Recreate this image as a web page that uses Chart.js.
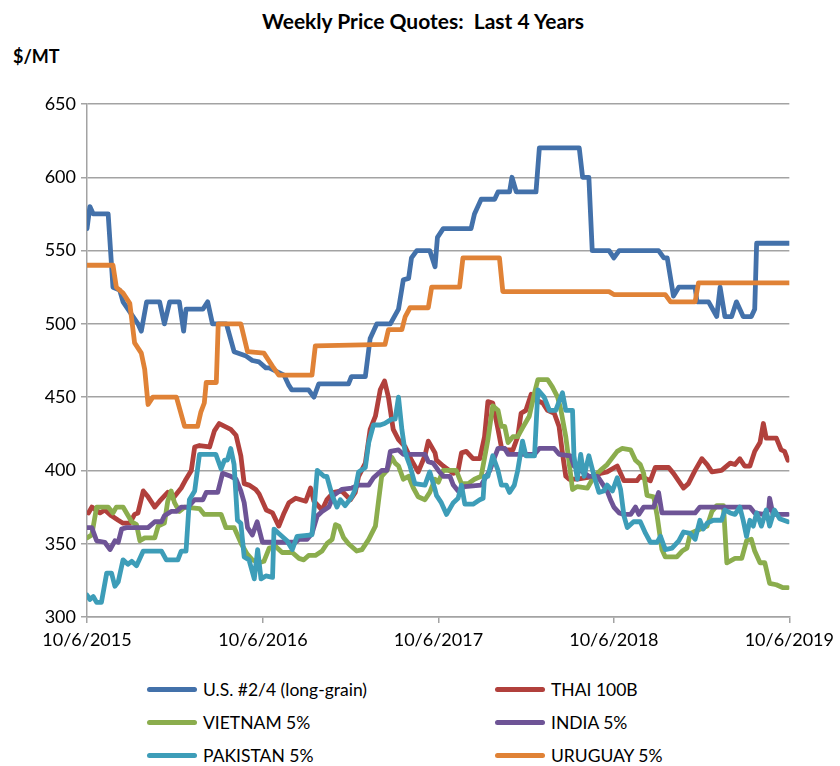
<!DOCTYPE html>
<html>
<head>
<meta charset="utf-8">
<script src="https://cdn.jsdelivr.net/npm/chart.js@4.4.1/dist/chart.umd.min.js"></script>
<style>
  body { margin:0; background:#fff; font-family: Lato, "Open Sans", sans-serif; color:#000; }
  #wrap { position:relative; width:840px; height:766px; }
  #title { position:absolute; left:0; width:846px; top:8px; text-align:center; font-weight:bold; font-size:21px; }
  #unit { position:absolute; left:13px; top:45px; font-weight:bold; font-size:18px; }
  #box { position:absolute; left:0; top:0; width:840px; height:670px; }
  #legend { position:absolute; left:0; top:679px; width:840px; }
  .item { position:absolute; display:flex; align-items:center; font-size:17.5px; white-space:nowrap; }
  .swatch { width:50px; height:5px; border-radius:3px; margin-right:6px; }
</style>
</head>
<body>
<div id="wrap">
  <div id="title">Weekly Price Quotes:&nbsp; Last 4 Years</div>
  <div id="unit">$/MT</div>
  <div id="box"><canvas id="chart"></canvas></div>
  <div id="legend"></div>
</div>
<script>
// x = days since 10/6/2015, y = $/MT
const tickDays = [0, 366, 731, 1096, 1461];
const tickLabels = ['10/6/2015', '10/6/2016', '10/6/2017', '10/6/2018', '10/6/2019'];
const yTicks = [300, 350, 400, 450, 500, 550, 600, 650];

const seriesNames = ['U.S. #2/4 (long-grain)', 'THAI 100B', 'VIETNAM 5%', 'INDIA 5%', 'PAKISTAN 5%', 'URUGUAY 5%'];
const seriesColors = ['#4371AA', '#B1403C', '#8BAD4D', '#6E5496', '#3D9DB8', '#E08236'];

const usPrices = [[0,565],[6,580],[13,575],[44,575],[54,525],[68,523],[75,515],[106,500],[113,495],[124,515],[151,515],[161,500],[172,515],[192,515],[201,495],[206,510],[241,510],[251,515],[261,500],[290,500],[306,481],[331,478],[344,475],[358,474],[372,470],[379,470],[410,465],[420,458],[426,455],[461,455],[472,450],[482,459],[544,459],[550,464],[579,464],[589,490],[603,500],[631,500],[648,510],[658,530],[669,531],[675,545],[686,550],[713,550],[724,539],[729,559],[741,565],[799,565],[806,575],[820,585],[848,585],[855,590],[879,590],[884,600],[893,590],[934,590],[941,620],[1024,620],[1031,600],[1044,600],[1051,550],[1086,550],[1096,545],[1107,550],[1189,550],[1200,545],[1207,545],[1220,519],[1231,525],[1265,525],[1269,515],[1293,515],[1310,505],[1317,525],[1327,505],[1341,505],[1351,515],[1365,505],[1382,505],[1389,510],[1393,555],[1461,555]];

const thaiPrices = [[3,371],[10,375],[27,371],[37,373],[51,369],[65,366],[75,364],[89,364],[99,370],[106,371],[117,386],[127,382],[141,375],[151,379],[168,385],[179,381],[196,388],[206,394],[217,400],[224,416],[234,417],[255,416],[265,427],[275,432],[299,428],[310,424],[320,410],[327,391],[337,390],[351,387],[358,384],[373,373],[386,371],[399,362],[410,371],[420,378],[434,381],[455,379],[465,388],[472,379],[489,373],[499,380],[513,385],[530,386],[548,380],[558,385],[565,396],[579,405],[589,428],[600,437],[610,455],[619,461],[627,450],[637,428],[648,421],[662,416],[675,407],[689,399],[703,410],[710,420],[724,412],[727,407],[741,403],[762,398],[772,400],[779,412],[789,413],[803,408],[817,408],[827,423],[834,447],[844,446],[855,428],[862,416],[872,414],[886,414],[896,423],[903,439],[913,441],[924,452],[934,448],[948,446],[958,441],[972,439],[982,430],[989,412],[996,396],[1003,394],[1020,394],[1055,396],[1068,398],[1082,399],[1103,403],[1117,393],[1144,393],[1151,396],[1172,393],[1182,402],[1210,402],[1220,398],[1241,388],[1251,391],[1265,400],[1279,408],[1290,404],[1300,399],[1320,400],[1338,405],[1348,404],[1358,408],[1368,403],[1379,403],[1389,413],[1400,419],[1407,432],[1413,422],[1434,422],[1444,414],[1451,413],[1458,407]];

const vietnamPrices = [[0,354],[10,356],[20,375],[44,375],[54,371],[61,375],[75,375],[93,365],[103,363],[110,352],[120,354],[141,354],[148,362],[161,364],[168,379],[175,386],[182,378],[192,372],[203,375],[234,374],[244,370],[279,370],[289,361],[306,361],[321,350],[333,343],[344,339],[358,337],[368,338],[379,347],[393,348],[406,344],[427,344],[441,340],[451,339],[461,342],[475,342],[489,345],[499,350],[510,353],[517,363],[524,362],[534,354],[544,350],[561,345],[572,346],[586,353],[600,362],[606,378],[613,396],[624,400],[634,409],[641,405],[648,403],[658,394],[669,396],[679,388],[689,382],[703,380],[713,385],[724,394],[731,392],[741,400],[768,400],[779,391],[793,391],[806,394],[820,396],[834,421],[844,444],[855,441],[862,430],[869,430],[876,419],[886,423],[896,423],[906,429],[920,437],[931,453],[938,462],[958,462],[968,457],[979,450],[986,441],[996,423],[1003,405],[1010,387],[1020,389],[1041,388],[1055,396],[1068,400],[1082,404],[1103,413],[1113,415],[1131,414],[1141,407],[1151,404],[1158,398],[1165,383],[1179,382],[1186,369],[1196,346],[1203,341],[1227,341],[1238,345],[1248,347],[1255,357],[1269,359],[1290,362],[1300,372],[1310,376],[1324,376],[1331,337],[1348,340],[1362,340],[1372,352],[1382,353],[1389,345],[1400,337],[1410,337],[1420,323],[1434,322],[1448,320],[1458,320]];

const indiaPrices = [[0,361],[10,361],[20,352],[37,351],[48,346],[58,352],[65,351],[72,360],[82,361],[127,361],[141,365],[155,365],[161,369],[175,372],[186,372],[196,375],[210,375],[224,380],[241,380],[248,385],[272,385],[282,398],[299,396],[310,394],[320,386],[327,378],[334,361],[344,356],[354,365],[365,351],[434,351],[441,353],[458,353],[468,357],[479,369],[489,372],[503,375],[513,383],[530,387],[551,388],[565,390],[586,390],[596,395],[613,400],[624,400],[631,413],[648,414],[658,411],[703,411],[710,406],[720,405],[731,400],[741,396],[755,396],[762,390],[772,386],[786,389],[820,390],[827,394],[838,400],[848,409],[855,415],[869,415],[876,411],[931,411],[941,415],[972,415],[982,411],[1006,410],[1013,403],[1027,400],[1044,396],[1062,396],[1072,391],[1082,386],[1089,380],[1096,375],[1107,371],[1117,370],[1131,370],[1141,375],[1148,370],[1158,375],[1179,375],[1189,385],[1196,371],[1265,371],[1275,375],[1379,375],[1389,371],[1407,370],[1418,373],[1420,381],[1427,370],[1458,370]];

const pakistanPrices = [[0,315],[6,312],[13,314],[20,310],[30,310],[41,330],[51,330],[58,321],[65,324],[75,339],[85,336],[93,338],[103,335],[117,345],[155,345],[165,339],[189,339],[196,345],[206,345],[213,380],[224,386],[234,411],[268,411],[279,401],[286,407],[292,407],[299,415],[306,404],[313,366],[320,364],[327,341],[337,339],[348,326],[355,346],[362,326],[372,328],[386,327],[389,360],[399,357],[416,352],[427,346],[437,355],[468,356],[479,400],[493,396],[499,396],[510,383],[520,375],[527,380],[537,376],[551,382],[558,387],[565,399],[579,402],[586,419],[596,431],[610,431],[619,432],[634,435],[641,435],[648,450],[655,428],[662,412],[672,403],[682,391],[703,390],[713,399],[724,387],[727,383],[737,378],[748,370],[762,378],[772,381],[779,390],[786,377],[803,377],[817,380],[824,381],[827,396],[834,396],[844,410],[855,400],[862,390],[872,390],[879,385],[889,390],[896,400],[906,420],[913,410],[931,410],[938,455],[951,450],[962,441],[975,441],[989,453],[996,441],[1010,441],[1013,410],[1020,394],[1027,411],[1034,396],[1044,410],[1055,396],[1065,385],[1075,386],[1082,390],[1093,386],[1103,395],[1110,387],[1117,369],[1124,361],[1137,365],[1151,365],[1162,357],[1172,351],[1186,351],[1193,355],[1203,346],[1217,347],[1231,352],[1241,358],[1255,357],[1265,353],[1275,366],[1282,360],[1290,364],[1303,366],[1320,366],[1327,373],[1338,371],[1348,370],[1358,375],[1365,366],[1372,355],[1379,366],[1386,362],[1393,371],[1403,362],[1413,373],[1420,362],[1430,373],[1441,367],[1458,365]];

const uruguayPrices = [[0,540],[54,540],[61,525],[75,521],[89,514],[99,487],[113,480],[120,469],[127,445],[137,450],[186,450],[203,430],[230,430],[237,440],[244,446],[248,460],[269,460],[273,500],[320,500],[334,481],[368,480],[386,471],[399,465],[468,465],[475,485],[620,486],[627,496],[655,496],[662,505],[672,511],[710,511],[717,525],[775,525],[782,545],[858,545],[865,522],[1086,522],[1096,520],[1203,520],[1214,515],[1265,515],[1272,528],[1461,528]];

const allSeries = [usPrices, thaiPrices, vietnamPrices, indiaPrices, pakistanPrices, uruguayPrices];

const datasets = allSeries.map((s, i) => ({
  label: seriesNames[i],
  data: s.map(p => ({x: p[0], y: p[1]})),
  borderColor: seriesColors[i],
  backgroundColor: seriesColors[i],
  borderWidth: 4.8,
  pointRadius: 0,
  tension: 0,
  borderJoinStyle: 'round',
  borderCapStyle: 'round',
  order: allSeries.length - i
}));

const gridColor = '#a3a3a3';

new Chart(document.getElementById('chart'), {
  type: 'line',
  data: { datasets },
  options: {
    responsive: true,
    maintainAspectRatio: false,
    animation: false,
    layout: { padding: { top: 104, right: 47, left: 0, bottom: 0 } },
    plugins: { legend: { display: false }, tooltip: { enabled: false } },
    scales: {
      x: {
        type: 'linear',
        min: tickDays[0],
        max: tickDays[tickDays.length - 1],
        afterBuildTicks: sc => { sc.ticks = tickDays.map(v => ({value: v})); },
        afterFit: sc => { sc.height = 53; },
        grid: { drawOnChartArea: false, drawTicks: true, tickLength: 6, color: gridColor, lineWidth: 1.5 },
        border: { color: gridColor, width: 1.5 },
        ticks: {
          autoSkip: false, maxRotation: 0, padding: 6, color: '#000',
          font: { family: 'Lato', size: 18 },
          callback: v => tickLabels[tickDays.indexOf(v)]
        }
      },
      y: {
        min: yTicks[0],
        max: yTicks[yTicks.length - 1],
        afterBuildTicks: sc => { sc.ticks = yTicks.map(v => ({value: v})); },
        afterFit: sc => { sc.width = 87; },
        grid: { color: gridColor, lineWidth: 1.5, tickLength: 6 },
        border: { color: gridColor, width: 1.5 },
        ticks: { padding: 5, color: '#000', font: { family: 'Lato', size: 18 } }
      }
    }
  }
});

// two-column legend below the chart
const legend = document.getElementById('legend');
const colX = [147, 495];
const rowY = [0, 33, 66];
seriesNames.forEach((name, i) => {
  const el = document.createElement('div');
  el.className = 'item';
  el.style.left = colX[i % 2] + 'px';
  el.style.top = rowY[Math.floor(i / 2)] + 'px';
  el.innerHTML = '<span class="swatch" style="background:' + seriesColors[i] + '"></span>' + name;
  legend.appendChild(el);
});
</script>
</body>
</html>
